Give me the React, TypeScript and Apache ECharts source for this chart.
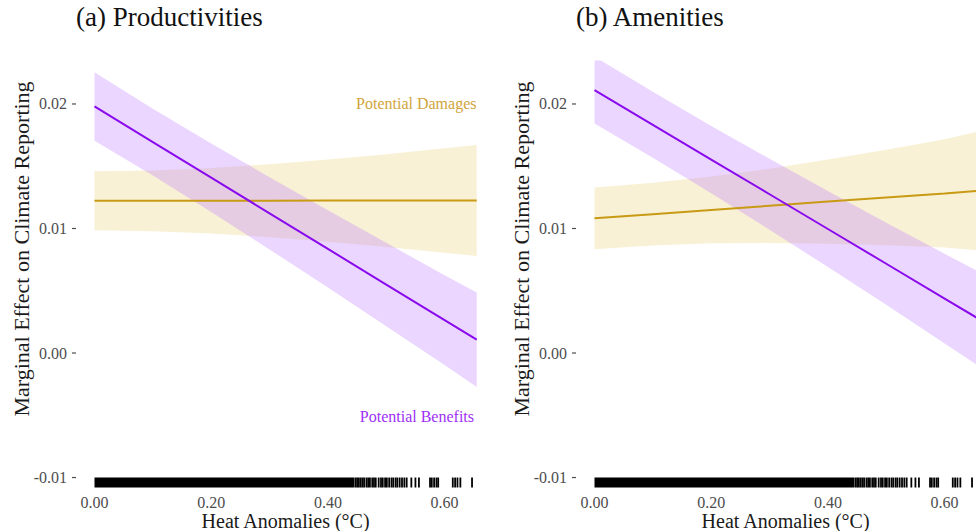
import React, { useEffect, useRef } from "react";
import * as echarts from "echarts";

// ---- data ----
const xGrid = [0, 0.1, 0.2, 0.3, 0.4, 0.5, 0.6, 0.655];

// (a) Productivities
const aBenefitFit = [0.0198, 0.01694, 0.01408, 0.01122, 0.00836, 0.0055, 0.00264, 0.00107];
const aBenefitHi = [0.02255, 0.01962, 0.01683, 0.01412, 0.01146, 0.00885, 0.00624, 0.00487];
const aBenefitLo = [0.01705, 0.01426, 0.01133, 0.00832, 0.00526, 0.00215, -0.00096, -0.00273];
const aDamageFit = [0.01222, 0.01222, 0.01223, 0.01223, 0.01224, 0.01224, 0.01225, 0.01225];
const aDamageHi = [0.01459, 0.01466, 0.01486, 0.01516, 0.01555, 0.01597, 0.01645, 0.01671];
const aDamageLo = [0.00985, 0.00978, 0.0096, 0.0093, 0.00893, 0.00851, 0.00805, 0.00779];

// (b) Amenities
const bBenefitFit = [0.02112, 0.01833, 0.01554, 0.01275, 0.00996, 0.00717, 0.00437, 0.00284];
const bBenefitHi = [0.0238, 0.02098, 0.01824, 0.0156, 0.01301, 0.01047, 0.00797, 0.00661];
const bBenefitLo = [0.01844, 0.01568, 0.01284, 0.0099, 0.00691, 0.00387, 0.00077, -0.00093];
const bDamageFit = [0.01082, 0.01115, 0.01149, 0.01182, 0.01216, 0.01249, 0.01282, 0.01301];
const bDamageHi = [0.0133, 0.01367, 0.01417, 0.0148, 0.01554, 0.01633, 0.01717, 0.01777];
const bDamageLo = [0.00834, 0.00863, 0.00881, 0.00884, 0.00878, 0.00865, 0.00847, 0.00825];

// rug of observed heat anomalies: dense block then individual ticks
const rugBlock = [0, 0.445];
const rugTicks = [
  0.447, 0.45, 0.453, 0.456, 0.459, 0.462, 0.466, 0.469, 0.472, 0.476, 0.479, 0.482,
  0.487, 0.491, 0.494, 0.498, 0.501, 0.505, 0.509, 0.512, 0.516, 0.519, 0.523, 0.527,
  0.531, 0.535, 0.543, 0.55, 0.556, 0.575, 0.578, 0.582, 0.586, 0.589, 0.614, 0.618,
  0.622, 0.627, 0.647,
];

const xTicks = [0, 0.2, 0.4, 0.6];
const yTicks = [-0.01, 0, 0.01, 0.02];
const titles = ["(a) Productivities", "(b) Amenities"];
const xTitle = "Heat Anomalies (°C)";
const yTitle = "Marginal Effect on Climate Reporting";

const X_MIN = 0;
const X_MAX = 0.655;
const Y_MIN = -0.0108;
const Y_MAX = 0.0235;
const RUG_TOP = -0.01;

const FONT = "Liberation Serif";
const PURPLE = "#8A0AEE";
const PURPLE_BAND = "rgba(190,120,255,0.30)";
const GOLD = "#C99A14";
const GOLD_BAND = "rgba(222,190,70,0.22)";

function bandSeries(gi: number, lo: number[], hi: number[], fill: string) {
  return {
    type: "custom",
    xAxisIndex: gi,
    yAxisIndex: gi,
    silent: true,
    clip: true,
    data: xGrid.map((x, i) => [x, lo[i], hi[i]]),
    renderItem: (params: any, api: any) => {
      if (params.dataIndex !== 0) return null;
      const pts: number[][] = [];
      for (let i = 0; i < xGrid.length; i++) pts.push(api.coord([xGrid[i], hi[i]]));
      for (let i = xGrid.length - 1; i >= 0; i--) pts.push(api.coord([xGrid[i], lo[i]]));
      return { type: "polygon", shape: { points: pts }, style: { fill, stroke: null } };
    },
  };
}

function lineSeries(gi: number, fit: number[], color: string) {
  return {
    type: "line",
    xAxisIndex: gi,
    yAxisIndex: gi,
    showSymbol: false,
    silent: true,
    data: xGrid.map((x, i) => [x, fit[i]]),
    lineStyle: { color, width: 2 },
    z: 3,
  };
}

function rugSeries(gi: number) {
  const segs = [[rugBlock[0], rugBlock[1]], ...rugTicks.map((t) => [t, t])];
  return {
    type: "custom",
    xAxisIndex: gi,
    yAxisIndex: gi,
    silent: true,
    clip: false,
    data: segs,
    renderItem: (params: any, api: any) => {
      const x0 = api.value(0);
      const x1 = api.value(1);
      const p0 = api.coord([x0, RUG_TOP]);
      const p1 = api.coord([x1, Y_MIN]);
      let w = p1[0] - p0[0];
      let left = p0[0];
      if (w < 1.8) {
        left = p0[0] - 0.9;
        w = 1.8;
      }
      return {
        type: "rect",
        shape: { x: left, y: p0[1], width: w, height: p1[1] - p0[1] },
        style: { fill: "#000" },
      };
    },
  };
}

// small outward tick marks on the y axis, sitting left of the data range
function yTickSeries(gi: number) {
  return {
    type: "custom",
    xAxisIndex: gi,
    yAxisIndex: gi,
    silent: true,
    clip: false,
    data: yTicks.map((v) => [X_MIN, v]),
    renderItem: (params: any, api: any) => {
      const p = api.coord([api.value(0), api.value(1)]);
      return {
        type: "line",
        shape: { x1: p[0] - 22.5, y1: p[1], x2: p[0] - 18.5, y2: p[1] },
        style: { stroke: "#4d4d4d", lineWidth: 1.2 },
      };
    },
  };
}

export default function App() {
  const ref = useRef<HTMLDivElement>(null);
  useEffect(() => {
    if (!ref.current) return;
    const chart = echarts.init(ref.current, undefined, { renderer: "svg" });
    const gridLefts = [94.5, 594.5];
    const gridWidth = 382.2;
    const grids = gridLefts.map((l) => ({
      left: l,
      top: 60.4,
      width: gridWidth,
      height: 427.1,
      containLabel: false,
      outerBoundsMode: "none",
    }));
    const xAxes = gridLefts.map((_, gi) => ({
      type: "value",
      gridIndex: gi,
      min: X_MIN,
      max: X_MAX,
      axisLine: { show: false },
      axisTick: { show: false },
      splitLine: { show: false },
      axisLabel: {
        customValues: xTicks,
        formatter: (v: number) => v.toFixed(2),
        fontFamily: FONT,
        fontSize: 16,
        lineHeight: 16,
        color: "#4d4d4d",
        margin: 7,
      },
    }));
    const yAxes = gridLefts.map((_, gi) => ({
      type: "value",
      gridIndex: gi,
      min: Y_MIN,
      max: Y_MAX,
      axisLine: { show: false },
      axisTick: { show: false },
      splitLine: { show: false },
      axisLabel: {
        customValues: yTicks,
        formatter: (v: number) => v.toFixed(2),
        fontFamily: FONT,
        fontSize: 16,
        color: "#4d4d4d",
        margin: 27.5,
      },
    }));
    const series: any[] = [
      bandSeries(0, aDamageLo, aDamageHi, GOLD_BAND),
      bandSeries(0, aBenefitLo, aBenefitHi, PURPLE_BAND),
      lineSeries(0, aDamageFit, GOLD),
      lineSeries(0, aBenefitFit, PURPLE),
      rugSeries(0),
      yTickSeries(0),
      bandSeries(1, bDamageLo, bDamageHi, GOLD_BAND),
      bandSeries(1, bBenefitLo, bBenefitHi, PURPLE_BAND),
      lineSeries(1, bDamageFit, GOLD),
      lineSeries(1, bBenefitFit, PURPLE),
      rugSeries(1),
      yTickSeries(1),
    ];
    chart.setOption({
      animation: false,
      backgroundColor: "#ffffff",
      grid: grids,
      xAxis: xAxes,
      yAxis: yAxes,
      series,
      graphic: [
        ...titles.map((t, i) => ({
          type: "text",
          left: 76 + i * 500,
          top: 3,
          style: { text: t, font: `27px "${FONT}"`, fill: "#111" },
        })),
        ...gridLefts.map((l) => ({
          type: "text",
          x: l + gridWidth / 2,
          y: 521,
          style: {
            text: xTitle,
            font: `20px "${FONT}"`,
            lineHeight: 20,
            fill: "#1a1a1a",
            align: "center",
            verticalAlign: "middle",
          },
        })),
        ...[0, 1].map((i) => ({
          type: "text",
          x: 21 + i * 500,
          y: 249,
          rotation: Math.PI / 2,
          style: {
            text: yTitle,
            font: `22px "${FONT}"`,
            fill: "#1a1a1a",
            align: "center",
            verticalAlign: "middle",
          },
        })),
        {
          type: "text",
          x: 476.5,
          y: 103.5,
          style: {
            text: "Potential Damages",
            font: `16px "${FONT}"`,
            fill: "#D1A43C",
            align: "right",
            verticalAlign: "middle",
          },
        },
        {
          type: "text",
          x: 474,
          y: 416,
          style: {
            text: "Potential Benefits",
            font: `16px "${FONT}"`,
            fill: "#A030F5",
            align: "right",
            verticalAlign: "middle",
          },
        },
      ],
    });
    return () => chart.dispose();
  }, []);
  return <div ref={ref} style={{ width: 976, height: 531, position: "fixed", left: 0, top: 0 }} />;
}
